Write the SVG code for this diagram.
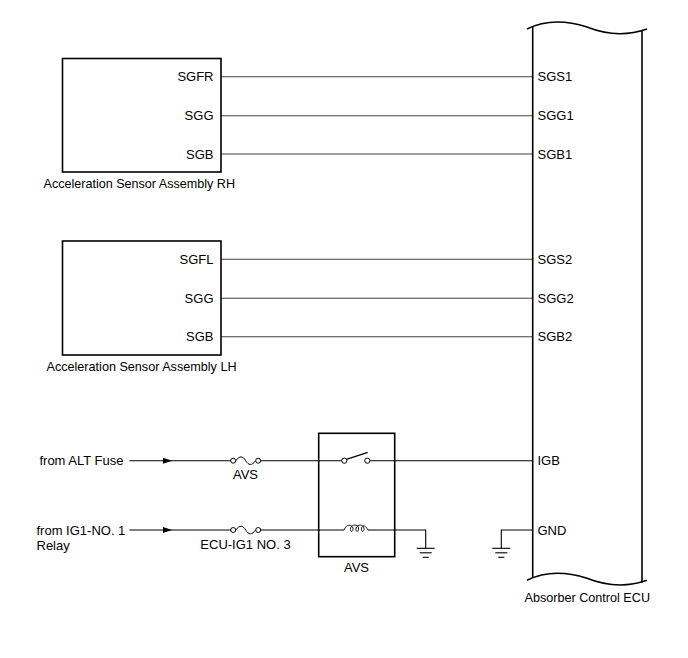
<svg xmlns="http://www.w3.org/2000/svg" width="688" height="658" viewBox="0 0 688 658">
<style>
text{font-family:"Liberation Sans",Arial,sans-serif;font-size:13px;fill:#000}
.e{text-anchor:end}
.m{text-anchor:middle}
.box{fill:none;stroke:#000;stroke-width:1.6}
.w{fill:none;stroke:#444;stroke-width:1.1}
.k{fill:none;stroke:#000;stroke-width:1.1}
</style>
<defs>
<marker id="arr" markerWidth="10" markerHeight="6" refX="9" refY="3" orient="auto" markerUnits="userSpaceOnUse">
<path d="M0,0 L9,3 L0,6 z" fill="#000"/>
</marker>
<g id="gnd">
<line x1="-9" y1="0" x2="9" y2="0" stroke="#000" stroke-width="1.1"/>
<line x1="-6" y1="4.5" x2="6" y2="4.5" stroke="#000" stroke-width="1.1"/>
<line x1="-3" y1="9" x2="3" y2="9" stroke="#000" stroke-width="1.1"/>
</g>
<g id="fuse">
<circle cx="1.5" cy="0" r="2.5" fill="#fff" stroke="#000" stroke-width="1"/>
<path d="M4,0 C8,-5 11,-5 14,0 C17,5 20,5 24,0" fill="none" stroke="#000" stroke-width="1"/>
<circle cx="26.5" cy="0" r="2.5" fill="#fff" stroke="#000" stroke-width="1"/>
</g>
</defs>

<g id="connectors">
<line class="w" x1="221" y1="76.7" x2="532.7" y2="76.7"/>
<line class="w" x1="221" y1="115.7" x2="532.7" y2="115.7"/>
<line class="w" x1="221" y1="154" x2="532.7" y2="154"/>
<line class="w" x1="221" y1="259.3" x2="532.7" y2="259.3"/>
<line class="w" x1="221" y1="298.3" x2="532.7" y2="298.3"/>
<line class="w" x1="221" y1="336.7" x2="532.7" y2="336.7"/>
<line class="k" x1="129.5" y1="460.7" x2="172" y2="460.7" marker-end="url(#arr)"/>
<line class="k" x1="172" y1="460.7" x2="232" y2="460.7"/>
<line class="k" x1="260" y1="460.7" x2="342" y2="460.7"/>
<line class="k" x1="369.5" y1="460.7" x2="532.7" y2="460.7"/>
<line class="k" x1="129.5" y1="530" x2="172" y2="530" marker-end="url(#arr)"/>
<line class="k" x1="172" y1="530" x2="232" y2="530"/>
<line class="k" x1="260" y1="530" x2="344" y2="530"/>
<polyline class="k" points="368,530 425.7,530 425.7,548.3"/>
<polyline class="k" points="532.7,530 501.3,530 501.3,548.3"/>
</g>

<g id="sensor-rh">
<rect class="box" x="62.5" y="58.5" width="158.5" height="113.5"/>
<text class="e" x="213.5" y="81.4">SGFR</text>
<text class="e" x="213.5" y="120.4">SGG</text>
<text class="e" x="213.5" y="158.7">SGB</text>
<text x="43.5" y="187.5" textLength="191.5" lengthAdjust="spacingAndGlyphs">Acceleration Sensor Assembly RH</text>
</g>

<g id="sensor-lh">
<rect class="box" x="62.5" y="241" width="158.5" height="114"/>
<text class="e" x="213.5" y="264">SGFL</text>
<text class="e" x="213.5" y="303">SGG</text>
<text class="e" x="213.5" y="341.4">SGB</text>
<text x="46.5" y="370.5" textLength="190" lengthAdjust="spacingAndGlyphs">Acceleration Sensor Assembly LH</text>
</g>

<g id="ecu">
<path class="box" d="M527,29 C545,20 565,20 587,27 C607,35 627,36 647,29"/>
<path class="box" d="M527,580.3 C545,571.3 565,571.3 587,578.3 C607,586.3 627,587.3 647,580.3"/>
<line class="box" x1="532.7" y1="26.5" x2="532.7" y2="578"/>
<line class="box" x1="642" y1="30.5" x2="642" y2="582.5"/>
<text x="537.5" y="81.4">SGS1</text>
<text x="537.5" y="120.4">SGG1</text>
<text x="537.5" y="158.7">SGB1</text>
<text x="537.5" y="264">SGS2</text>
<text x="537.5" y="303">SGG2</text>
<text x="537.5" y="341.4">SGB2</text>
<text x="537.5" y="465.4">IGB</text>
<text x="537.5" y="534.7">GND</text>
<text x="524.5" y="601.7" textLength="125.5" lengthAdjust="spacingAndGlyphs">Absorber Control ECU</text>
</g>

<g id="alt-fuse-source">
<text class="e" x="123.5" y="464.7">from ALT Fuse</text>
</g>

<g id="ig1-relay-source">
<text x="36.5" y="534.5">from IG1-NO. 1</text>
<text x="36.5" y="549.5">Relay</text>
</g>

<g id="fuse-avs">
<use href="#fuse" x="231.7" y="460.7"/>
<text class="m" x="245.5" y="478.5">AVS</text>
</g>

<g id="fuse-ecu-ig1">
<use href="#fuse" x="231.7" y="530"/>
<text class="m" x="245.5" y="548.5">ECU-IG1 NO. 3</text>
</g>

<g id="relay-avs">
<rect class="box" x="318.7" y="433.3" width="76" height="123.4"/>
<circle cx="344.3" cy="460.7" r="2.6" fill="#fff" stroke="#000" stroke-width="1"/>
<circle cx="367.3" cy="460.7" r="2.6" fill="#fff" stroke="#000" stroke-width="1"/>
<line x1="346.5" y1="459.3" x2="367.7" y2="452.3" stroke="#000" stroke-width="1.3"/>
<path fill="none" stroke="#000" stroke-width="0.9" d="M344,530 C346,524 352,524 353,528 C353.5,532 350,533 350.5,528 C352,524 358,524 358.5,528 C359,532 355.5,533 356,528 C357.5,524 363,524 364,528 C364.5,532 361,533 361.5,528 C363,524 366,526 368,530"/>
<text class="m" x="356.5" y="571.5">AVS</text>
</g>

<g id="ground-relay"><use href="#gnd" x="425.7" y="548.3"/></g>
<g id="ground-ecu"><use href="#gnd" x="501.3" y="548.3"/></g>
</svg>
